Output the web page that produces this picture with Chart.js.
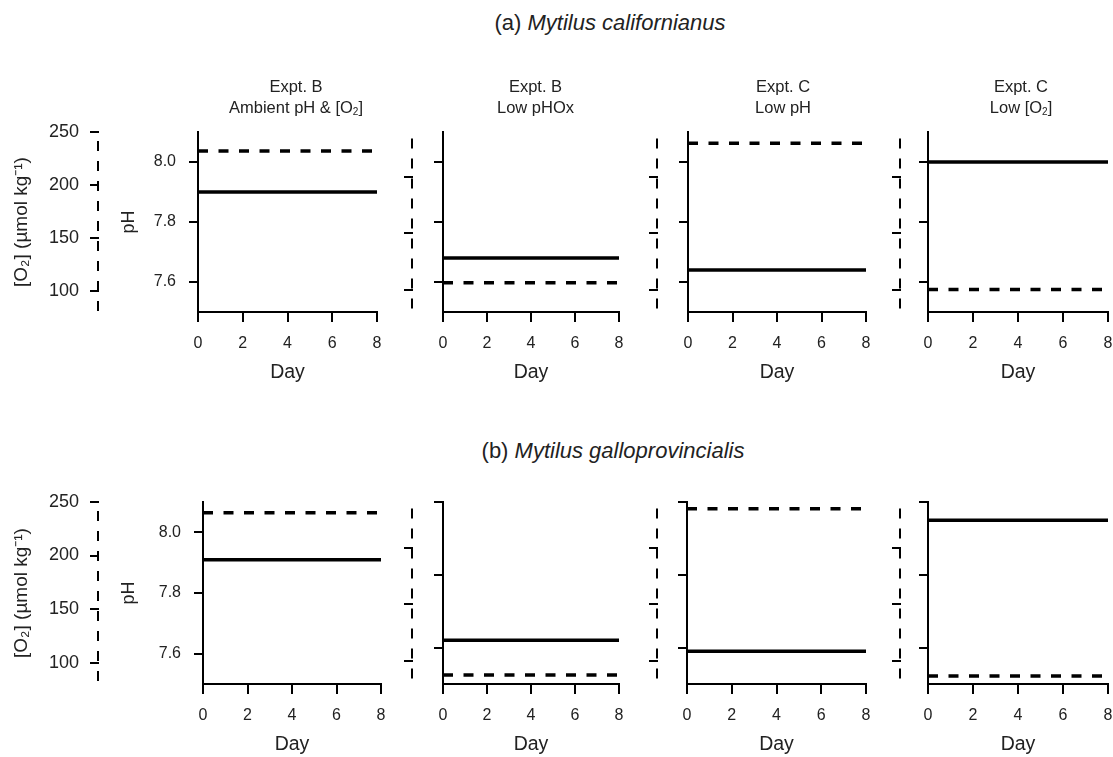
<!DOCTYPE html>
<html>
<head>
<meta charset="utf-8">
<title>Mytilus pH and O2 exposure</title>
<script src="https://cdn.jsdelivr.net/npm/chart.js@4.4.1/dist/chart.umd.min.js"></script>
<style>
  html, body { margin: 0; padding: 0; background: #fff; overflow: hidden; }
  #fig { position: relative; width: 1113px; height: 757px; font-family: "Liberation Sans", Arial, sans-serif; color: #222; }
  #fig canvas { position: absolute; }
  .row-title { position: absolute; font-size: 22px; white-space: nowrap; transform: translate(-50%, -50%); }
  .panel-title { position: absolute; font-size: 16.5px; line-height: 21.8px; text-align: center; white-space: nowrap; transform: translateX(-50%); }
  .panel-title sub { font-size: 10px; vertical-align: -2px; }
</style>
</head>
<body>
<div id="fig"></div>
<script>
// ── Data ──────────────────────────────────────────────────────────────────────
const DAYS = [0, 8];
const DAY_TICKS = [0, 2, 4, 6, 8];
const PH_TICKS = [7.6, 7.8, 8.0];
const O2_TICKS = [100, 150, 200, 250];

const PANEL_TITLES = [
  ["Expt. B", "Ambient pH &amp; [O<sub>2</sub>]"],
  ["Expt. B", "Low pHOx"],
  ["Expt. C", "Low pH"],
  ["Expt. C", "Low [O<sub>2</sub>]"],
];

// (a) Mytilus californianus, one value per panel
const PH_CALIFORNIANUS = [7.90, 7.68, 7.64, 8.00];
const O2_CALIFORNIANUS = [232, 106, 230, 100];

// (b) Mytilus galloprovincialis
const PH_GALLO = [7.91, 7.62, 7.59, 7.95];
const O2_GALLO = [240, 88, 234, 87];

// axis ranges per panel
const PH_RANGE_A = [[7.5, 8.1], [7.5, 8.1], [7.5, 8.1], [7.5, 8.1]];
const PH_RANGE_B = [[7.5, 8.1], [7.5, 8.0], [7.5, 8.0], [7.5, 8.0]];
const O2_RANGE = [[80, 250], [80, 240], [80, 240], [80, 240]];

// ── Layout ────────────────────────────────────────────────────────────────────
const PAD_T = 30;      // canvas space above chart area
const PAD_R = 24;      // canvas space right of chart area
const X_AXIS_H = 80;   // ticks + labels + "Day"

const ROWS = [
  {
    title: ["(a) ", "Mytilus californianus"], titleX: 610, titleY: 23,
    top: 132, bottom: 312, ph: PH_CALIFORNIANUS, o2: O2_CALIFORNIANUS, phRange: PH_RANGE_A,
    panelTitles: true,
    panels: [
      { o2x: 99,  phx: 198, right: 377 },
      { o2x: 413, phx: 443, right: 619 },
      { o2x: 658, phx: 688, right: 866 },
      { o2x: 901, phx: 928, right: 1108 },
    ],
  },
  {
    title: ["(b) ", "Mytilus galloprovincialis"], titleX: 613, titleY: 451,
    top: 502, bottom: 684, ph: PH_GALLO, o2: O2_GALLO, phRange: PH_RANGE_B,
    panelTitles: false,
    panels: [
      { o2x: 99,  phx: 203, right: 381 },
      { o2x: 413, phx: 443, right: 619 },
      { o2x: 658, phx: 687, right: 866 },
      { o2x: 901, phx: 928, right: 1108 },
    ],
  },
];
const PANEL_TITLE_X = [296, 535.5, 783, 1021];
const PANEL_TITLE_Y = 75.6;

Chart.defaults.font.family = '"Liberation Sans", Arial, sans-serif';
Chart.defaults.color = "#222";

const fig = document.getElementById("fig");

function fixedTicks(values) {
  return (scale) => { scale.ticks = values.map((v) => ({ value: v })); };
}

// The O2 axis line is dashed; Chart.js only dashes grid lines, so stroke it here.
const dashedO2Axis = {
  id: "dashedO2Axis",
  afterDraw(chart, args, opts) {
    const s = chart.scales.o2;
    const ctx = chart.ctx;
    ctx.save();
    ctx.lineWidth = 2;
    ctx.strokeStyle = "#000";
    ctx.setLineDash([10, 10]);
    ctx.lineDashOffset = opts.offset || 0;
    ctx.beginPath();
    ctx.moveTo(s.right - 1, s.top);
    ctx.lineTo(s.right - 1, s.bottom);
    ctx.stroke();
    ctx.restore();
  },
};

function makePanel(row, i) {
  const p = row.panels[i];
  const first = i === 0;
  const wO2 = first ? p.o2x : 20;
  const left = p.o2x - wO2;
  const top = row.top - PAD_T;
  const W = p.right + PAD_R - left;
  const H = row.bottom + X_AXIS_H - top;

  const canvas = document.createElement("canvas");
  canvas.width = W;
  canvas.height = H;
  canvas.style.left = left + "px";
  canvas.style.top = top + "px";
  canvas.style.width = W + "px";
  canvas.style.height = H + "px";
  fig.appendChild(canvas);

  const axisGrid = (len) => ({ drawOnChartArea: false, drawTicks: true, tickLength: len, lineWidth: 2, color: "#000" });

  new Chart(canvas, {
    type: "line",
    data: {
      datasets: [
        {
          label: "pH",
          data: DAYS.map((d) => ({ x: d, y: row.ph[i] })),
          yAxisID: "ph",
          borderColor: "#000",
          borderWidth: 3.5,
          pointRadius: 0,
        },
        {
          label: "O2",
          data: DAYS.map((d) => ({ x: d, y: row.o2[i] })),
          yAxisID: "o2",
          borderColor: "#000",
          borderWidth: 3.5,
          borderDash: [10, 10.5],
          pointRadius: 0,
        },
      ],
    },
    plugins: [dashedO2Axis],
    options: {
      responsive: false,
      animation: false,
      events: [],
      layout: { padding: { top: PAD_T, right: PAD_R, left: 0, bottom: 0 } },
      plugins: {
        legend: { display: false },
        tooltip: { enabled: false },
        dashedO2Axis: { offset: first ? 11 : 13.5 },
      },
      scales: {
        x: {
          type: "linear",
          min: 0,
          max: 8,
          afterBuildTicks: fixedTicks(DAY_TICKS),
          grid: axisGrid(10),
          border: { color: "#000", width: 2 },
          ticks: { padding: 12, font: { size: 16 }, maxRotation: 0 },
          title: { display: true, text: "Day", font: { size: 19.5 }, padding: { top: 0, bottom: 8 } },
          afterFit: (s) => { s.height = X_AXIS_H; },
        },
        ph: {
          type: "linear",
          position: "left",
          weight: 0,
          min: row.phRange[i][0],
          max: row.phRange[i][1],
          afterBuildTicks: fixedTicks(PH_TICKS),
          grid: axisGrid(9),
          border: { color: "#000", width: 2 },
          ticks: { display: first, padding: 13, font: { size: 16 }, callback: (v) => v.toFixed(1) },
          title: { display: first, text: "pH", font: { size: 18 }, padding: { top: 19, bottom: 0 } },
          afterFit: (s) => { s.width = p.phx - p.o2x; },
        },
        o2: {
          type: "linear",
          position: "left",
          weight: 1,
          min: O2_RANGE[i][0],
          max: O2_RANGE[i][1],
          afterBuildTicks: fixedTicks(O2_TICKS.filter((v) => v <= O2_RANGE[i][1])),
          grid: axisGrid(9),
          border: { display: false },
          ticks: { display: first, padding: 11, font: { size: 18 } },
          title: { display: first, text: "[O\u2082] (\u00b5mol kg\u207b\u00b9)", font: { size: 19 }, padding: { top: 10.6, bottom: 0 } },
          afterFit: (s) => { s.width = wO2; },
        },
      },
    },
  });
}

ROWS.forEach((row) => {
  const t = document.createElement("div");
  t.className = "row-title";
  t.style.left = row.titleX + "px";
  t.style.top = row.titleY + "px";
  t.innerHTML = row.title[0] + "<i>" + row.title[1] + "</i>";
  fig.appendChild(t);

  row.panels.forEach((_, i) => {
    makePanel(row, i);
    if (row.panelTitles) {
      const pt = document.createElement("div");
      pt.className = "panel-title";
      pt.style.left = PANEL_TITLE_X[i] + "px";
      pt.style.top = PANEL_TITLE_Y + "px";
      pt.innerHTML = PANEL_TITLES[i].join("<br>");
      fig.appendChild(pt);
    }
  });
});
</script>
</body>
</html>
